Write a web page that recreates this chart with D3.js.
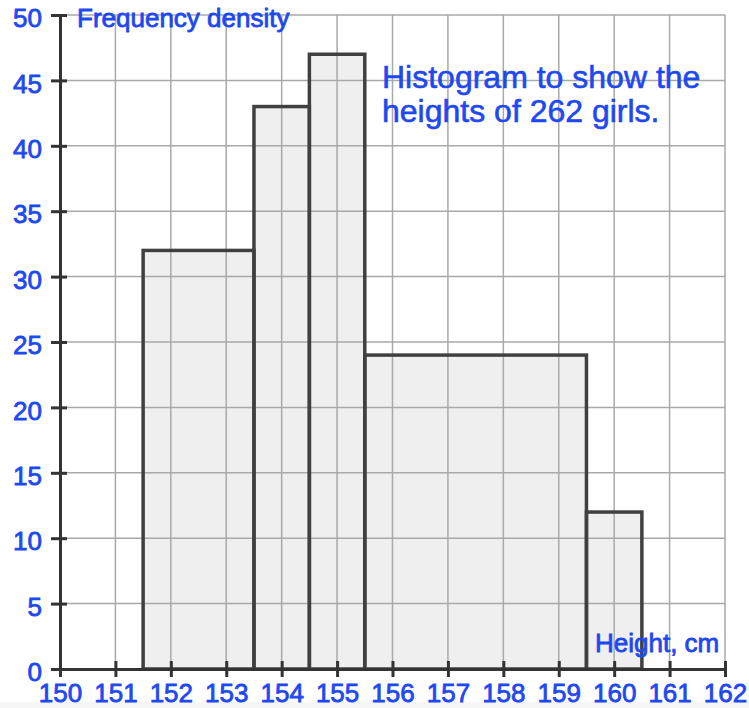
<!DOCTYPE html>
<html>
<head>
<meta charset="utf-8">
<script src="https://cdn.jsdelivr.net/npm/d3@7"></script>
<style>
  body { margin: 0; background: #fff; }
  text { font-family: "Liberation Sans", Arial, sans-serif; }
</style>
</head>
<body>
<div id="chart"></div>
<script>
'use strict';

// Class boundaries and frequency densities
const classStarts = [151.5, 153.5, 154.5, 155.5, 159.5];
const classEnds = [153.5, 154.5, 155.5, 159.5, 160.5];
const densities = [32, 43, 47, 24, 12];

const xTicks = [150, 151, 152, 153, 154, 155, 156, 157, 158, 159, 160, 161, 162];
const yTicks = [0, 5, 10, 15, 20, 25, 30, 35, 40, 45, 50];

const titleLines = ["Histogram to show the", "heights of 262 girls."];
const yLabel = "Frequency density";
const xLabel = "Height, cm";

const width = 749, height = 708;
const blue = "#1e48f0";

const svg = d3.select("#chart").append("svg")
    .attr("width", width)
    .attr("height", height);

svg.append("rect")
    .attr("x", 0).attr("y", 702)
    .attr("width", width).attr("height", 6)
    .attr("fill", "#f6f6f6");

const x = d3.scaleLinear().domain([150, 162]).range([60, 725]);
const y = d3.scaleLinear().domain([0, 50]).range([669, 15]);

const bars = classStarts.map((s, i) => ({ x0: s, x1: classEnds[i], d: densities[i] }));

// bar fills first so the grid shows through them
svg.append("g").selectAll("rect")
    .data(bars)
    .enter()
    .append("rect")
    .attr("x", d => x(d.x0))
    .attr("y", d => y(d.d))
    .attr("width", d => x(d.x1) - x(d.x0))
    .attr("height", d => y(0) - y(d.d))
    .attr("fill", "#efefef");

// grid
const grid = svg.append("g")
    .attr("stroke", "#a9a9a9")
    .attr("stroke-width", 1.5);

grid.selectAll("line.v")
    .data(xTicks.slice(1))
    .enter()
    .append("line")
    .attr("class", "v")
    .attr("x1", d => x(d)).attr("x2", d => x(d))
    .attr("y1", y(0)).attr("y2", y(50));

grid.selectAll("line.h")
    .data(yTicks.slice(1))
    .enter()
    .append("line")
    .attr("class", "h")
    .attr("x1", x(150)).attr("x2", x(162))
    .attr("y1", d => y(d)).attr("y2", d => y(d));

// bar outlines
svg.append("g").selectAll("rect")
    .data(bars)
    .enter()
    .append("rect")
    .attr("x", d => x(d.x0))
    .attr("y", d => y(d.d))
    .attr("width", d => x(d.x1) - x(d.x0))
    .attr("height", d => y(0) - y(d.d))
    .attr("fill", "none")
    .attr("stroke", "#404040")
    .attr("stroke-width", 3.5);

// x axis
const xAxis = svg.append("g")
    .attr("transform", "translate(0," + y(0) + ")")
    .call(d3.axisBottom(x).tickValues(xTicks).tickSize(0).tickPadding(14.5).tickFormat(d3.format("d")));

xAxis.select(".domain").attr("stroke", "#333").attr("stroke-width", 3);
xAxis.selectAll(".tick")
    .append("line")
    .attr("y1", -8).attr("y2", 8)
    .attr("stroke", "#333").attr("stroke-width", 3);
xAxis.selectAll("text")
    .attr("fill", blue)
    .attr("stroke", blue).attr("stroke-width", 0.8)
    .style("font-size", "26px");

// y axis
const yAxis = svg.append("g")
    .attr("transform", "translate(" + x(150) + ",0)")
    .call(d3.axisLeft(y).tickValues(yTicks).tickSize(0).tickPadding(18));

yAxis.select(".domain").attr("stroke", "#333").attr("stroke-width", 3);
yAxis.selectAll(".tick")
    .append("line")
    .attr("x1", -9).attr("x2", 7)
    .attr("stroke", "#333").attr("stroke-width", 3);
yAxis.selectAll("text")
    .attr("fill", blue)
    .attr("stroke", blue).attr("stroke-width", 0.8)
    .attr("dy", "0.45em")
    .style("font-size", "26px");

// labels
svg.append("text")
    .attr("x", 77).attr("y", 27)
    .attr("fill", blue)
    .attr("stroke", blue).attr("stroke-width", 0.8)
    .style("font-size", "26px")
    .text(yLabel);

svg.append("text")
    .attr("x", 595).attr("y", 652)
    .attr("fill", blue)
    .attr("stroke", blue).attr("stroke-width", 0.8)
    .style("font-size", "26px")
    .text(xLabel);

svg.append("g").selectAll("text")
    .data(titleLines)
    .enter()
    .append("text")
    .attr("x", 382)
    .attr("y", (d, i) => 88 + i * 34)
    .attr("fill", blue)
    .attr("stroke", blue).attr("stroke-width", 0.6)
    .style("font-size", "32px")
    .text(d => d);
</script>
</body>
</html>
